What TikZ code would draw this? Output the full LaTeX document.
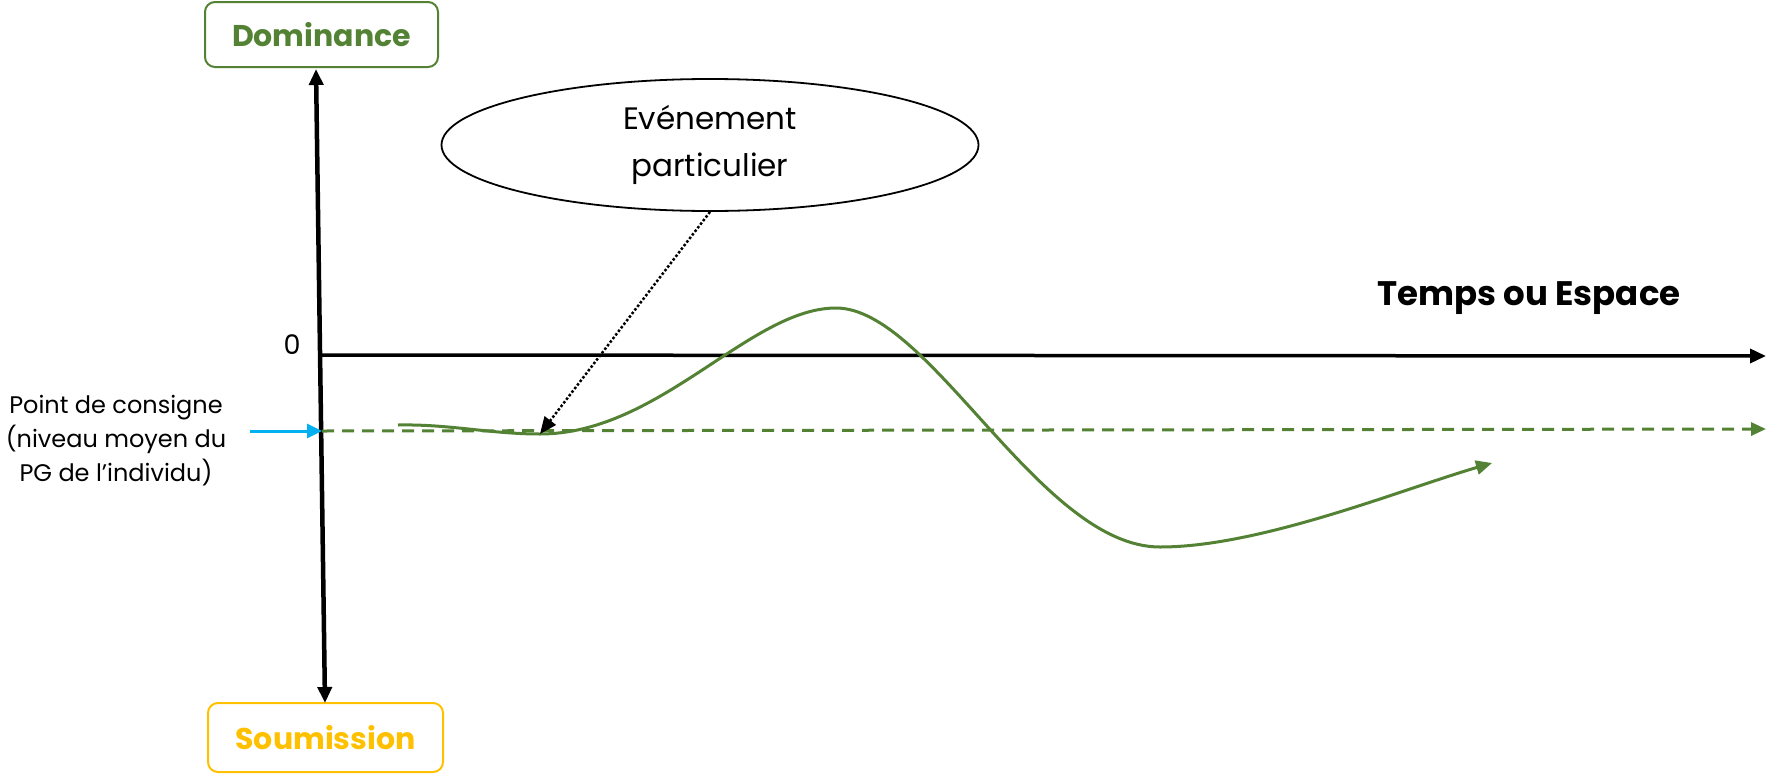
\documentclass[tikz,border=0pt]{standalone}
\usepackage{fontspec}
\setmainfont{Poppins}
\usetikzlibrary{arrows.meta,shapes.geometric,calc}
\definecolor{pgreen}{HTML}{548235}
\definecolor{pyellow}{HTML}{FFC000}
\definecolor{pblue}{HTML}{00B0F0}
\tikzset{
  labelbox/.style={draw, rounded corners=10pt, line width=2pt, inner sep=0pt, font=\fontsize{30}{36}\selectfont\bfseries},
  axisline/.style={line width=4.5pt, black},
  bigtip/.style={-{Triangle[length=16pt,width=14pt]}},
  curvestyle/.style={pgreen, line width=3pt},
}
\begin{document}
\begin{tikzpicture}[x=1pt,y=-1pt]
\useasboundingbox (0,0) rectangle (1767,774);
% boxes
\node[labelbox, pgreen, minimum width=233pt, minimum height=65pt] (dom) at (321.5,34.5) {Dominance};
\node[labelbox, pyellow, minimum width=235pt, minimum height=69pt] (sou) at (325.5,737.5) {Soumission};
% axes
\coordinate (vtop) at (316,69);
\coordinate (vbot) at (325,703);
\draw[axisline, {Triangle[length=16pt,width=14pt]}-{Triangle[length=16pt,width=14pt]}] (vtop) -- (vbot);
\coordinate (origin) at (321,355);
\coordinate (hend) at (1766,356);
\draw[line width=3.5pt, bigtip] (origin) -- (hend);
\node[font=\fontsize{27}{30}\selectfont, anchor=center] (zero) at (292,345) {0};
\node[font=\fontsize{34}{40}\selectfont\bfseries] (temps) at (1529,298) {Temps ou Espace};
% set point
\coordinate (spstart) at (322,431);
\coordinate (spend) at (1766,429);
\draw[pgreen, line width=3pt, dash pattern=on 12pt off 8pt, -{Triangle[length=15pt,width=13pt]}] (spstart) -- (spend);
\coordinate (bluestart) at (250,431);
\draw[pblue, line width=3pt, -{Triangle[length=15pt,width=14pt]}] (bluestart) -- (spstart);
\node[align=center, font=\fontsize{24}{34}\selectfont] (consigne) at (116,441) {Point de consigne\\(niveau moyen du\\PG de l’individu)};
% curve
\coordinate (cstart) at (398,425);
\coordinate (dip) at (540,434);
\coordinate (peak) at (836,308);
\coordinate (trough) at (1160,547);
\coordinate (cend) at (1492,463);
\draw[curvestyle, -{Triangle[length=16pt,width=14pt]}] (cstart)
  .. controls (450,424) and (490,434) .. (dip)
  .. controls (660,434) and (750,308) .. (peak)
  .. controls (930,308) and (1040,547) .. (trough)
  .. controls (1260,547) and (1400,490) .. (cend);
% event ellipse
\node[ellipse, draw, line width=1.8pt, minimum width=537pt, minimum height=132pt, inner sep=0pt, align=center, font=\fontsize{31}{47}\selectfont] (event) at (710,145) {Evénement\\particulier};
\draw[line width=2.5pt, dotted, -{Triangle[length=17pt,width=14pt]}] (event.south) -- (dip);
\end{tikzpicture}
\end{document}
